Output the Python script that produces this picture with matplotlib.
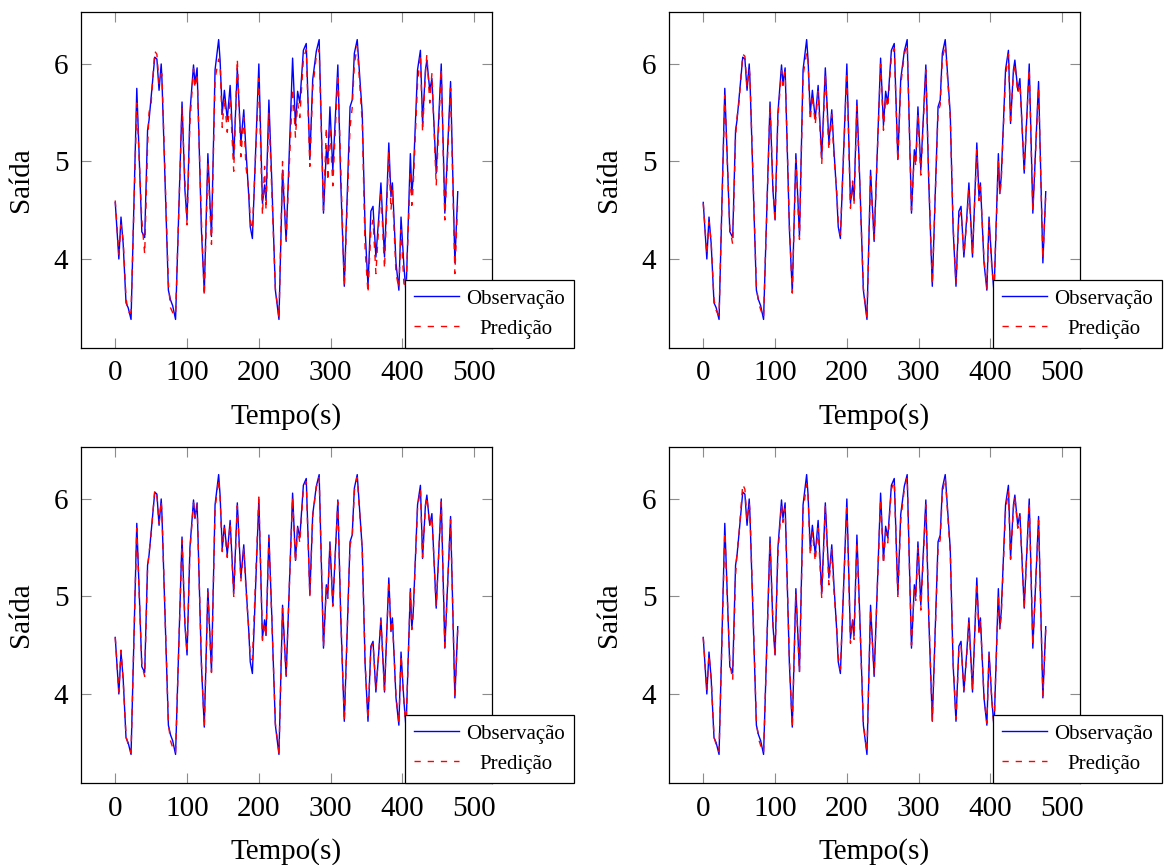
import matplotlib
matplotlib.use("Agg")
import matplotlib.pyplot as plt
from matplotlib.transforms import Affine2D

plt.rcParams['font.family'] = ['Liberation Serif', 'DejaVu Serif']

# ---- data ----
tempo = [0, 5, 8, 11, 15, 18, 22, 30, 37, 41, 45, 47, 50, 55, 58, 61, 64, 65, 74, 77,
         80, 84, 93, 97, 100, 104, 109, 111, 114, 120, 124, 129, 134, 139, 144, 146, 149, 152, 156, 160,
         165, 170, 175, 179, 182, 186, 188, 191, 200, 205, 208, 210, 214, 218, 223, 228, 233, 238, 247, 251,
         254, 257, 262, 266, 271, 275, 280, 284, 290, 294, 296, 299, 303, 310, 314, 319, 327, 330, 333, 337,
         344, 348, 352, 356, 359, 363, 367, 370, 375, 381, 384, 386, 391, 395, 398, 402, 405, 411, 413, 415,
         421, 425, 428, 432, 434, 438, 441, 447, 454, 459, 467, 473, 477]

observacao = [4.58, 4.00, 4.43, 4.16, 3.55, 3.50, 3.38, 5.75, 4.28, 4.22, 5.32, 5.42, 5.66, 6.07, 6.05, 5.73, 6.00, 5.85, 3.68, 3.58,
              3.52, 3.38, 5.61, 4.71, 4.40, 5.50, 5.99, 5.80, 5.96, 4.30, 3.66, 5.08, 4.23, 5.94, 6.25, 6.04, 5.49, 5.73, 5.43, 5.78,
              5.03, 5.96, 5.19, 5.53, 5.12, 4.64, 4.33, 4.21, 6.00, 4.57, 4.76, 4.60, 5.63, 4.80, 3.68, 3.38, 4.91, 4.18, 6.06, 5.37,
              5.72, 5.60, 6.14, 6.21, 5.02, 5.84, 6.13, 6.25, 4.47, 5.12, 5.00, 5.56, 4.91, 5.99, 4.80, 3.72, 5.56, 5.63, 6.11, 6.25,
              5.49, 4.30, 3.72, 4.49, 4.54, 4.02, 4.43, 4.78, 4.02, 5.19, 4.64, 4.78, 3.96, 3.68, 4.43, 3.93, 3.65, 5.08, 4.67, 4.84,
              5.94, 6.14, 5.39, 5.94, 6.04, 5.73, 5.85, 4.88, 6.00, 4.47, 5.82, 3.96, 4.69]

predicao_1 = [4.60, 4.05, 4.35, 4.20, 3.60, 3.45, 3.45, 5.60, 4.40, 4.05, 5.15, 5.50, 5.60, 6.13, 6.10, 5.80, 5.90, 5.90, 3.75, 3.50,
              3.45, 3.42, 5.55, 4.80, 4.35, 5.40, 5.95, 5.75, 5.90, 4.40, 3.62, 5.00, 4.15, 5.85, 6.05, 6.00, 5.35, 5.65, 5.30, 5.65,
              4.90, 6.05, 5.05, 5.45, 4.95, 4.70, 4.40, 4.30, 5.85, 4.45, 4.95, 4.50, 5.50, 4.70, 3.70, 3.40, 5.00, 4.20, 5.75, 5.25,
              5.60, 5.45, 6.05, 6.15, 4.95, 5.75, 6.08, 6.15, 4.50, 5.35, 4.80, 5.35, 4.75, 5.90, 4.95, 3.72, 5.35, 5.55, 6.00, 6.18,
              5.40, 4.10, 3.65, 4.30, 4.40, 3.85, 4.35, 4.70, 3.90, 5.10, 4.50, 4.70, 3.85, 3.70, 4.30, 3.75, 3.70, 4.90, 4.55, 4.75,
              5.80, 6.10, 5.30, 5.90, 6.10, 5.60, 5.90, 4.75, 5.95, 4.40, 5.75, 3.85, 4.60]

predicao_2 = [4.57, 4.05, 4.38, 4.18, 3.58, 3.47, 3.42, 5.68, 4.32, 4.15, 5.25, 5.45, 5.62, 6.10, 6.08, 5.76, 5.95, 5.88, 3.72, 3.55,
              3.48, 3.40, 5.57, 4.76, 4.38, 5.45, 5.93, 5.78, 5.92, 4.35, 3.65, 5.02, 4.20, 5.88, 6.12, 6.02, 5.42, 5.68, 5.38, 5.72,
              4.97, 5.90, 5.12, 5.48, 5.05, 4.68, 4.38, 4.25, 5.92, 4.52, 4.80, 4.56, 5.57, 4.76, 3.70, 3.40, 4.85, 4.20, 6.00, 5.32,
              5.66, 5.55, 6.08, 6.16, 5.00, 5.78, 6.10, 6.20, 4.50, 5.08, 4.95, 5.50, 4.86, 5.94, 4.85, 3.74, 5.50, 5.58, 6.05, 6.20,
              5.45, 4.35, 3.75, 4.42, 4.48, 4.05, 4.38, 4.72, 4.05, 5.12, 4.60, 4.74, 4.00, 3.70, 4.38, 3.90, 3.68, 5.00, 4.65, 4.80,
              5.88, 6.10, 5.42, 5.90, 6.00, 5.70, 5.80, 4.92, 5.95, 4.50, 5.76, 4.00, 4.65]

predicao_3 = [4.58, 4.02, 4.45, 4.14, 3.57, 3.48, 3.40, 5.70, 4.30, 4.18, 5.28, 5.44, 5.64, 6.09, 6.04, 5.75, 5.98, 5.86, 3.70, 3.52,
              3.45, 3.40, 5.58, 4.74, 4.42, 5.47, 5.96, 5.82, 5.94, 4.33, 3.66, 5.04, 4.22, 5.90, 6.20, 6.02, 5.46, 5.70, 5.40, 5.75,
              5.00, 5.93, 5.16, 5.50, 5.08, 4.66, 4.38, 4.35, 6.02, 4.55, 4.72, 4.58, 5.60, 4.78, 3.70, 3.40, 4.88, 4.20, 6.02, 5.35,
              5.70, 5.55, 6.10, 6.18, 5.00, 5.82, 6.12, 6.22, 4.48, 5.10, 4.98, 5.54, 4.90, 5.97, 4.82, 3.72, 5.53, 5.60, 6.08, 6.22,
              5.47, 4.32, 3.74, 4.47, 4.52, 4.05, 4.41, 4.75, 4.04, 5.16, 4.62, 4.76, 3.98, 3.70, 4.40, 3.92, 3.66, 5.04, 4.66, 4.82,
              5.90, 6.10, 5.40, 5.92, 6.02, 5.72, 5.82, 4.90, 5.97, 4.48, 5.79, 3.98, 4.66]

predicao_4 = [4.58, 4.04, 4.40, 4.16, 3.56, 3.48, 3.41, 5.66, 4.32, 4.14, 5.22, 5.44, 5.66, 6.15, 6.10, 5.78, 5.96, 5.88, 3.72, 3.54,
              3.47, 3.40, 5.56, 4.74, 4.40, 5.44, 5.94, 5.76, 5.90, 4.36, 3.66, 5.03, 4.22, 5.88, 6.15, 6.02, 5.42, 5.66, 5.36, 5.70,
              4.98, 5.92, 5.12, 5.48, 5.06, 4.66, 4.38, 4.25, 5.95, 4.52, 4.75, 4.56, 5.56, 4.75, 3.70, 3.40, 4.86, 4.20, 6.00, 5.33,
              5.66, 5.55, 6.10, 6.18, 5.00, 5.78, 6.10, 6.22, 4.50, 5.08, 4.96, 5.50, 4.86, 5.94, 4.84, 3.73, 5.50, 5.58, 6.06, 6.22,
              5.45, 4.33, 3.74, 4.44, 4.50, 4.04, 4.40, 4.73, 4.04, 5.14, 4.62, 4.75, 3.98, 3.70, 4.40, 3.92, 3.67, 5.02, 4.66, 4.80,
              5.88, 6.08, 5.38, 5.90, 6.02, 5.70, 5.82, 4.90, 5.96, 4.50, 5.78, 3.98, 4.66]

predicoes = [predicao_1, predicao_2, predicao_3, predicao_4]

xticks = [0, 100, 200, 300, 400, 500]
yticks = [4, 5, 6]
label_obs = 'Observação'
label_pred = 'Predição'
xlabel = 'Tempo(s)'
ylabel = 'Saída'

# ---- figure ----
W, H = 1165, 865
fig = plt.figure(figsize=(W / 100, H / 100), dpi=100)

panel_px = [(81, 12), (669, 12), (81, 447), (669, 447)]
aw, ah = 411, 336

legends = []
for (px, py), pred in zip(panel_px, predicoes):
    ax = fig.add_axes([px / W, 1 - (py + ah) / H, aw / W, ah / H])
    ax.plot(tempo, observacao, color='blue', lw=1.0, label=label_obs)
    ax.plot(tempo, pred, color='red', lw=1.0, dashes=(4.5, 5.0), label=label_pred)
    ax.set_xlim(-47.7, 524.7)
    ax.set_ylim(3.087, 6.533)
    ax.set_xticks(xticks)
    ax.set_yticks(yticks)
    ax.tick_params(direction='in', length=7, width=0.8, color='#8c8c8c',
                   top=True, right=True, labelsize=21, pad=9)
    ax.tick_params(axis='y', pad=9)
    for s in ax.spines.values():
        s.set_linewidth(0.9)
        s.set_color('black')
    ax.set_xlabel(xlabel, fontsize=21, labelpad=12)
    ax.set_ylabel(ylabel, fontsize=21, labelpad=14)
    leg = ax.legend(loc='lower left', bbox_to_anchor=(0.788, 0.0), fontsize=15,
                    frameon=True, fancybox=False, edgecolor='black', framealpha=1,
                    borderpad=0.45, labelspacing=0.5, handlelength=2.15,
                    handletextpad=0.35, borderaxespad=0.0)
    leg.get_frame().set_linewidth(0.9)
    legends.append(leg)

# centre the legend labels within their column (as in the reference)
fig.canvas.draw()
r = fig.canvas.get_renderer()
for leg in legends:
    texts = leg.get_texts()
    widths = [t.get_window_extent(r).width for t in texts]
    wmax = max(widths)
    for t, w in zip(texts, widths):
        dx = (wmax - w) / 2.0
        if dx > 0:
            t.set_transform(t.get_transform() + Affine2D().translate(dx, 0))

fig.savefig('out.png', dpi=100)
